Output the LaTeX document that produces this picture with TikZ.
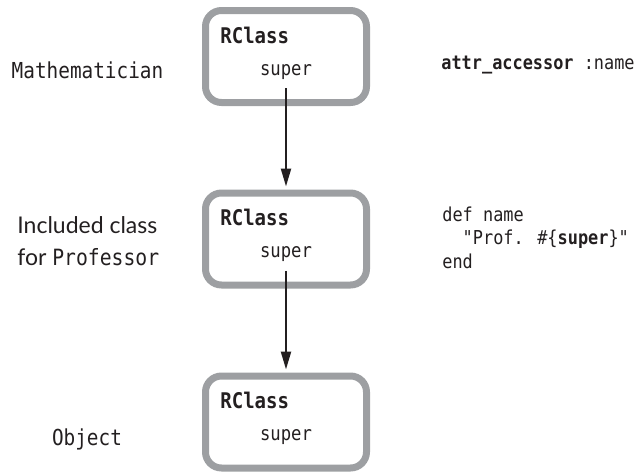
\documentclass[tikz,border=0pt]{standalone}
\usepackage{fontspec}
\usepackage{tikz}
\usetikzlibrary{arrows.meta}
\setmainfont{Lato}
\newfontfamily\codefont[FakeStretch=0.88]{DejaVu Sans Mono}
\definecolor{boxgray}{HTML}{9D9FA2}
\definecolor{ink}{HTML}{231F20}

\begin{document}
\begin{tikzpicture}[x=0.5pt,y=-0.5pt]
              \tikzstyle{every node}+=[inner sep=0pt, text=ink]
              \tikzstyle{classbox}=[draw=boxgray, line width=3.5pt, rounded corners=8pt, minimum width=80.5pt, minimum height=46pt]
              \tikzstyle{cname}=[font=\codefont\fontsize{10.8}{12}\selectfont\bfseries, anchor=base west]
              \tikzstyle{csuper}=[font=\codefont\fontsize{9.8}{11}\selectfont, anchor=base, inner ysep=4.5pt]
              \tikzstyle{lbl}=[font=\codefont\fontsize{11}{13}\selectfont]
              \tikzstyle{code}=[font=\codefont\fontsize{9.6}{11.75}\selectfont, align=left]
              \tikzstyle{conn}=[draw=ink, line width=1.1pt, -{Triangle[length=9pt,width=5pt]}, shorten >=1.5pt]
              \useasboundingbox (0,0) rectangle (644,472);
              % Mathematician
              \node [classbox] (b1) at (286,56.5) {};
              \node [cname] (r1) at (220,43) {RClass};
              \node [csuper] (s1) at (286,75) {super};
              \node [lbl, anchor=base] (mathlbl) at (87.5,78) {Mathematician};
              \node [code, anchor=base west] (attrtxt) at (441,69) {\textbf{attr\_accessor} :name};
              % included class
              \node [classbox] (b2) at (286,239) {};
              \node [cname] (r2) at (220,225.5) {RClass};
              \node [csuper] (s2) at (286,257.5) {super};
              \node [anchor=west, align=left, font=\fontsize{11.5}{16}\selectfont] (incllbl) at (17,241) {Included class\\for {\codefont\fontsize{11.2}{16}\selectfont Professor}};
              \node [code, anchor=north west] (deftxt) at (442,206.5) {def name\\\phantom{xx}"Prof. \#\{\textbf{super}\}"\\end};
              % Object
              \node [classbox] (b3) at (286,422) {};
              \node [cname] (r3) at (220,408.5) {RClass};
              \node [csuper] (s3) at (286,440.5) {super};
              \node [lbl, anchor=base] (objlbl) at (87,445) {Object};
              % super pointers
              \draw [conn] (s1) -- (b2);
              \draw [conn] (s2) -- (b3);
            \end{tikzpicture}
\end{document}
